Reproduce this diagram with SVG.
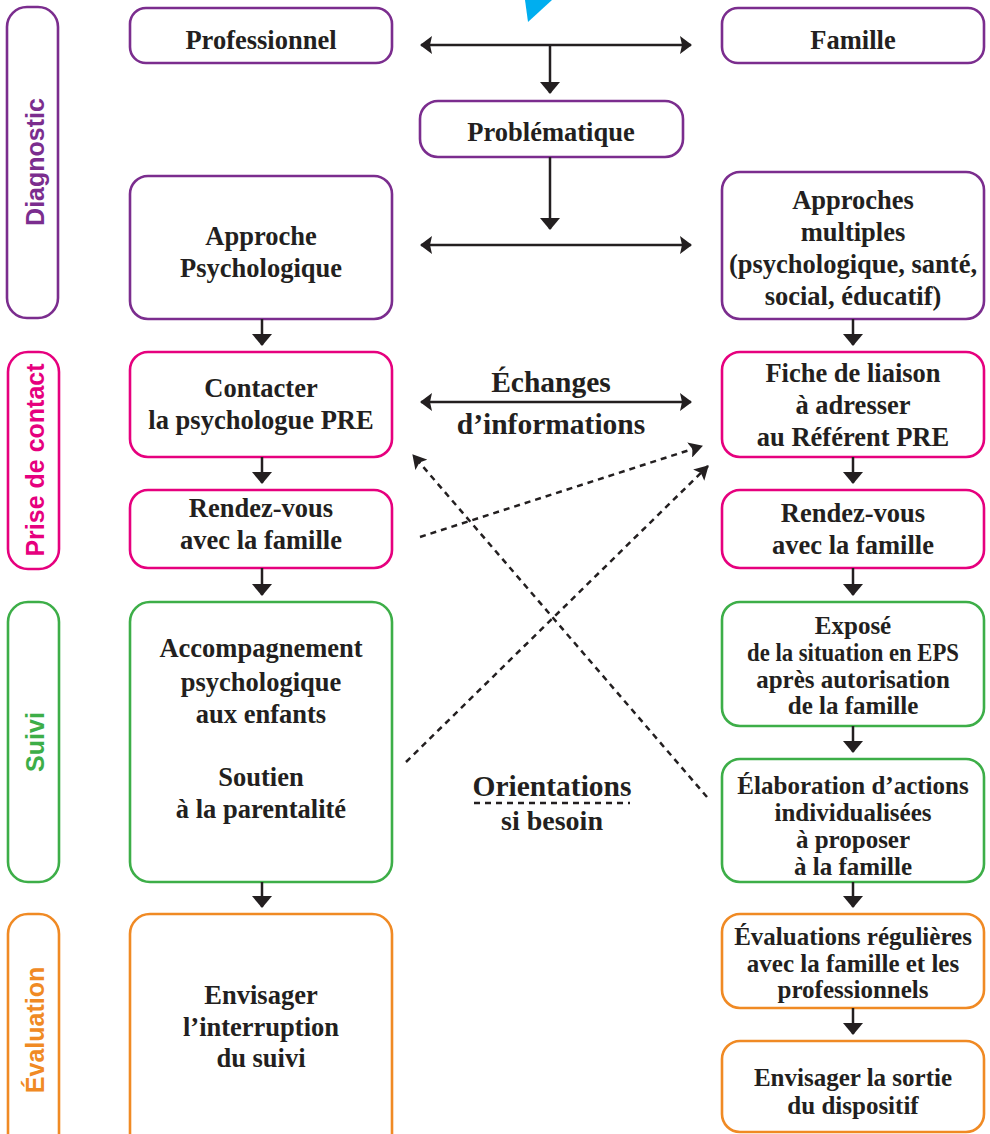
<svg xmlns="http://www.w3.org/2000/svg" width="990" height="1134" viewBox="0 0 990 1134">
<defs>
<style>
.box{fill:#fff;stroke-width:2.6}
.pu{stroke:#7B2D8E}.pk{stroke:#E6007E}.gr{stroke:#3DAE48}.or{stroke:#F08A24}
.t{font-family:"Liberation Serif","Times New Roman",serif;font-weight:bold;font-size:26.5px;fill:#231F20;text-anchor:middle}
.sm{font-size:25px}
.big{font-size:29.5px}
.side{font-family:"Liberation Sans Narrow","Liberation Sans",Arial,sans-serif;font-stretch:condensed;font-weight:bold;font-size:25px;text-anchor:middle}
.ln{stroke:#231F20;stroke-width:2.5;fill:none}
.dot{stroke:#231F20;stroke-width:2.5;fill:none;stroke-dasharray:6 5}
</style>
<marker id="ah" viewBox="0 0 12 18" refX="11" refY="9" markerWidth="12" markerHeight="18" markerUnits="userSpaceOnUse" orient="auto-start-reverse">
<path d="M0,0 L12,9 L0,18 L2,9 z" fill="#231F20"/>
</marker>
<marker id="ad" viewBox="0 0 12 20" refX="11" refY="10" markerWidth="12" markerHeight="20" markerUnits="userSpaceOnUse" orient="auto">
<path d="M0,0 L12,10 L0,20 z" fill="#231F20"/>
</marker>
<marker id="ak" viewBox="0 0 14 16" refX="13" refY="8" markerWidth="14" markerHeight="16" markerUnits="userSpaceOnUse" orient="auto">
<path d="M0,0 L14,8 L0,16 L3,8 z" fill="#231F20"/>
</marker>
</defs>
<rect width="990" height="1134" fill="#fff"/>
<polygon points="525,0 552,0 528,22" fill="#00AEEF"/>

<g id="side-diagnostic"><rect class="box pu" x="7" y="7" width="51" height="311" rx="20"/><text class="side" fill="#7B2D8E" transform="translate(44,162) rotate(-90)">Diagnostic</text></g>
<g id="side-contact"><rect class="box pk" x="8" y="352" width="51" height="217" rx="20"/><text class="side" fill="#E6007E" transform="translate(44,460) rotate(-90)">Prise de contact</text></g>
<g id="side-suivi"><rect class="box gr" x="8" y="602" width="51" height="280" rx="20"/><text class="side" fill="#3DAE48" transform="translate(44,742) rotate(-90)">Suivi</text></g>
<g id="side-evaluation"><rect class="box or" x="8" y="914" width="51" height="240" rx="20"/><text class="side" fill="#F08A24" transform="translate(44,1030) rotate(-90)">Évaluation</text></g>

<g id="professionnel"><rect class="box pu" x="130" y="8" width="262" height="55" rx="16"/><text class="t" x="261" y="49">Professionnel</text></g>
<g id="famille"><rect class="box pu" x="722" y="8" width="262" height="55" rx="16"/><text class="t" x="853" y="49">Famille</text></g>
<g id="problematique"><rect class="box pu" x="420" y="101" width="263" height="56" rx="18"/><text class="t" x="551" y="141">Problématique</text></g>
<g id="approche"><rect class="box pu" x="130" y="176" width="262" height="143" rx="18"/><text class="t" x="261" y="245">Approche</text><text class="t" x="261" y="277">Psychologique</text></g>
<g id="approches"><rect class="box pu" x="722" y="172" width="262" height="147" rx="18"/><text class="t" x="853" y="209">Approches</text><text class="t" x="853" y="241">multiples</text><text class="t" x="853" y="273">(psychologique, santé,</text><text class="t" x="853" y="305">social, éducatif)</text></g>

<g id="contacter"><rect class="box pk" x="130" y="352" width="262" height="105" rx="18"/><text class="t" x="261" y="397">Contacter</text><text class="t" x="261" y="429">la psychologue PRE</text></g>
<g id="fiche"><rect class="box pk" x="722" y="352" width="262" height="105" rx="18"/><text class="t" x="853" y="382">Fiche de liaison</text><text class="t" x="853" y="414">à adresser</text><text class="t" x="853" y="446">au Référent PRE</text></g>
<g id="rdv-left"><rect class="box pk" x="130" y="490" width="262" height="78" rx="18"/><text class="t" x="261" y="517">Rendez-vous</text><text class="t" x="261" y="549">avec la famille</text></g>
<g id="rdv-right"><rect class="box pk" x="722" y="490" width="262" height="78" rx="18"/><text class="t" x="853" y="522">Rendez-vous</text><text class="t" x="853" y="554">avec la famille</text></g>

<g id="accompagnement"><rect class="box gr" x="130" y="602" width="262" height="280" rx="20"/><text class="t" x="261" y="657">Accompagnement</text><text class="t" x="261" y="691">psychologique</text><text class="t" x="261" y="723">aux enfants</text><text class="t" x="261" y="786">Soutien</text><text class="t" x="261" y="818">à la parentalité</text></g>
<g id="expose"><rect class="box gr" x="722" y="602" width="262" height="124" rx="18"/><text class="t sm" x="853" y="634">Exposé</text><text class="t sm" x="853" y="661" textLength="212" lengthAdjust="spacingAndGlyphs">de la situation en EPS</text><text class="t sm" x="853" y="688">après autorisation</text><text class="t sm" x="853" y="714">de la famille</text></g>
<g id="elaboration"><rect class="box gr" x="722" y="759" width="262" height="123" rx="18"/><text class="t sm" x="853" y="794">Élaboration d’actions</text><text class="t sm" x="853" y="821">individualisées</text><text class="t sm" x="853" y="848">à proposer</text><text class="t sm" x="853" y="875">à la famille</text></g>

<g id="interruption"><rect class="box or" x="130" y="914" width="262" height="240" rx="20"/><text class="t" x="261" y="1004">Envisager</text><text class="t" x="261" y="1036">l’interruption</text><text class="t" x="261" y="1067">du suivi</text></g>
<g id="evaluations"><rect class="box or" x="722" y="914" width="262" height="94" rx="18"/><text class="t sm" x="853" y="945">Évaluations régulières</text><text class="t sm" x="853" y="972">avec la famille et les</text><text class="t sm" x="853" y="998">professionnels</text></g>
<g id="sortie"><rect class="box or" x="722" y="1041" width="262" height="91" rx="18"/><text class="t sm" x="853" y="1086">Envisager la sortie</text><text class="t sm" x="853" y="1114">du dispositif</text></g>

<g id="labels">
<text class="t big" x="551" y="392">Échanges</text>
<text class="t big" x="551" y="434">d’informations</text>
<text class="t big" x="552" y="796">Orientations</text>
<line class="dot" x1="474" y1="803" x2="630" y2="803" stroke-width="2" stroke-dasharray="5 3"/>
<text class="t" x="552" y="830" style="font-size:28px">si besoin</text>
</g>

<g id="connectors">
<line class="ln" x1="421" y1="45" x2="691" y2="45" marker-start="url(#ah)" marker-end="url(#ah)"/>
<line class="ln" x1="550" y1="45" x2="550" y2="93" marker-end="url(#ad)"/>
<line class="ln" x1="550" y1="157" x2="550" y2="229" marker-end="url(#ad)"/>
<line class="ln" x1="421" y1="245" x2="691" y2="245" marker-start="url(#ah)" marker-end="url(#ah)"/>
<line class="ln" x1="421" y1="402" x2="691" y2="402" marker-start="url(#ah)" marker-end="url(#ah)"/>
<line class="ln" x1="262" y1="319" x2="262" y2="345" marker-end="url(#ad)"/>
<line class="ln" x1="262" y1="457" x2="262" y2="483" marker-end="url(#ad)"/>
<line class="ln" x1="262" y1="568" x2="262" y2="595" marker-end="url(#ad)"/>
<line class="ln" x1="262" y1="882" x2="262" y2="907" marker-end="url(#ad)"/>
<line class="ln" x1="853" y1="319" x2="853" y2="345" marker-end="url(#ad)"/>
<line class="ln" x1="853" y1="457" x2="853" y2="483" marker-end="url(#ad)"/>
<line class="ln" x1="853" y1="568" x2="853" y2="595" marker-end="url(#ad)"/>
<line class="ln" x1="853" y1="726" x2="853" y2="752" marker-end="url(#ad)"/>
<line class="ln" x1="853" y1="882" x2="853" y2="907" marker-end="url(#ad)"/>
<line class="ln" x1="853" y1="1008" x2="853" y2="1034" marker-end="url(#ad)"/>
<line class="dot" x1="420" y1="537" x2="702" y2="446" marker-end="url(#ak)"/>
<line class="dot" x1="406" y1="762" x2="708" y2="466" marker-end="url(#ak)"/>
<line class="dot" x1="707" y1="797" x2="413" y2="455" marker-end="url(#ak)"/>
</g>
</svg>
